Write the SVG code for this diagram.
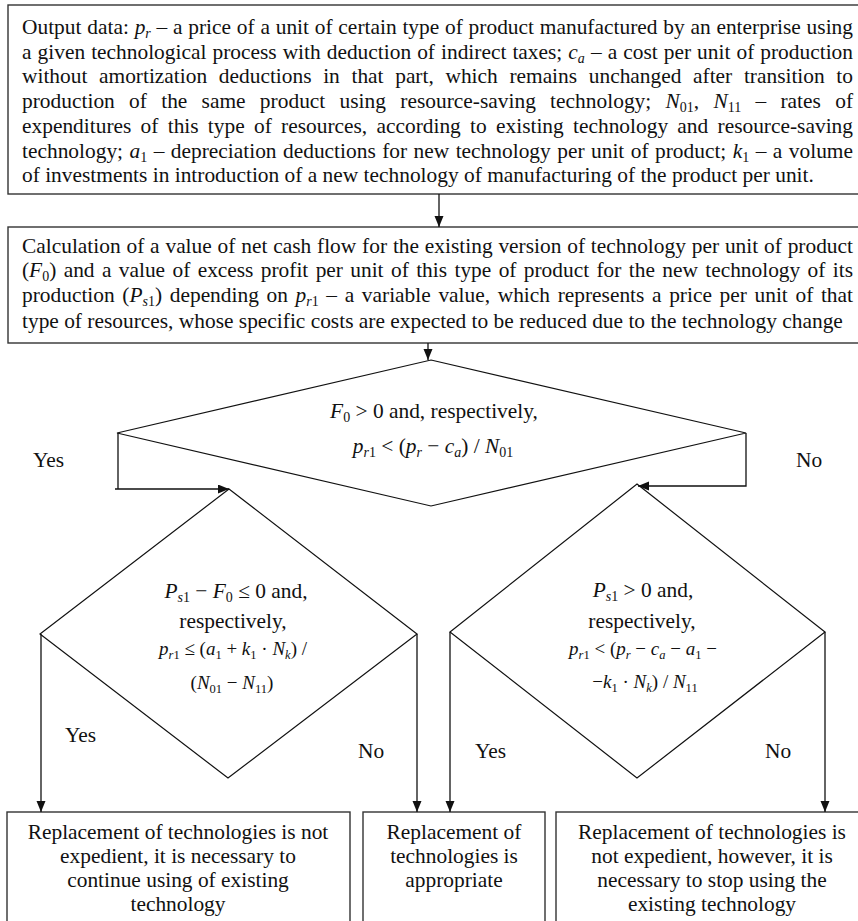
<svg xmlns="http://www.w3.org/2000/svg" width="858" height="921" viewBox="0 0 858 921">
<defs>
<marker id="ah" markerUnits="userSpaceOnUse" markerWidth="12" markerHeight="10" refX="11" refY="4.5" orient="auto">
<path d="M0,0 L11,4.5 L0,9 z" fill="#111"/>
</marker>
<style>
text{font-family:"Liberation Serif","Times New Roman",serif;font-size:21.4px;fill:#111}
.m{text-anchor:middle}
.i{font-style:italic}
.s{font-size:14px;baseline-shift:-4px}
.f{font-size:19px}
.f .s{font-size:12.5px}
.box{fill:#fff;stroke:#333;stroke-width:1.4}
.dia{fill:none;stroke:#111;stroke-width:1.2}
.con{fill:none;stroke:#111;stroke-width:1.3}
.arr{marker-end:url(#ah)}
</style>
</defs>

<g id="input">
<rect class="box" x="8" y="5" width="859" height="189"/>
<text x="22" y="34" textLength="831" lengthAdjust="spacing" word-spacing="0.4">Output data: <tspan class="i">p</tspan><tspan class="s i">r</tspan> – a price of a unit of certain type of product manufactured by an enterprise using</text>
<text x="22" y="58.7" textLength="831" lengthAdjust="spacing" word-spacing="0.7">a given technological process with deduction of indirect taxes; <tspan class="i">c</tspan><tspan class="s i">a</tspan> – a cost per unit of production</text>
<text x="22" y="83.4" textLength="831" lengthAdjust="spacing" word-spacing="6.3">without amortization deductions in that part, which remains unchanged after transition to</text>
<text x="22" y="108.1" textLength="831" lengthAdjust="spacing" word-spacing="8.9">production of the same product using resource-saving technology; <tspan class="i">N</tspan><tspan class="s">01</tspan>, <tspan class="i">N</tspan><tspan class="s">11</tspan> – rates of</text>
<text x="22" y="132.8" textLength="831" lengthAdjust="spacing" word-spacing="3.9">expenditures of this type of resources, according to existing technology and resource-saving</text>
<text x="22" y="157.5" textLength="831" lengthAdjust="spacing" word-spacing="1.1">technology; <tspan class="i">a</tspan><tspan class="s">1</tspan> – depreciation deductions for new technology per unit of product; <tspan class="i">k</tspan><tspan class="s">1</tspan> – a volume</text>
<text x="22" y="182.2">of investments in introduction of a new technology of manufacturing of the product per unit.</text>
</g>

<g id="calc">
<rect class="box" x="8" y="227" width="859" height="116"/>
<text x="22" y="252.5" textLength="831" lengthAdjust="spacing" word-spacing="0.5">Calculation of a value of net cash flow for the existing version of technology per unit of product</text>
<text x="22" y="277.3" textLength="831" lengthAdjust="spacing" word-spacing="2.1">(<tspan class="i">F</tspan><tspan class="s">0</tspan>) and a value of excess profit per unit of this type of product for the new technology of its</text>
<text x="22" y="302" textLength="831" lengthAdjust="spacing" word-spacing="2.3">production (<tspan class="i">P</tspan><tspan class="s"><tspan class="i">s</tspan>1</tspan>) depending on <tspan class="i">p</tspan><tspan class="s"><tspan class="i">r</tspan>1</tspan> – a variable value, which represents a price per unit of that</text>
<text x="22" y="328">type of resources, whose specific costs are expected to be reduced due to the technology change</text>
</g>

<g id="dec1">
<polygon class="dia" points="431,360 746,433 431,506 117,433"/>
<text class="m" x="434" y="418"><tspan class="i">F</tspan><tspan class="s">0</tspan> &gt; 0  and, respectively,</text>
<text class="m" x="433" y="453"><tspan class="i">p</tspan><tspan class="s"><tspan class="i">r</tspan>1</tspan> &lt; (<tspan class="i">p</tspan><tspan class="s i">r</tspan> − <tspan class="i">c</tspan><tspan class="s i">a</tspan>) / <tspan class="i">N</tspan><tspan class="s">01</tspan></text>
</g>

<g id="dec2">
<polygon class="dia" points="229,489 417,634 228,778 40,634"/>
<text class="m" x="236" y="598"><tspan class="i">P</tspan><tspan class="s"><tspan class="i">s</tspan>1</tspan> − <tspan class="i">F</tspan><tspan class="s">0</tspan> ≤ 0  and,</text>
<text class="m" x="233" y="628">respectively,</text>
<text class="m f" x="233" y="655"><tspan class="i">p</tspan><tspan class="s"><tspan class="i">r</tspan>1</tspan> ≤ (<tspan class="i">a</tspan><tspan class="s">1</tspan> + <tspan class="i">k</tspan><tspan class="s">1</tspan> · <tspan class="i">N</tspan><tspan class="s i">k</tspan>) /</text>
<text class="m f" x="232" y="689">(<tspan class="i">N</tspan><tspan class="s">01</tspan> − <tspan class="i">N</tspan><tspan class="s">11</tspan>)</text>
</g>

<g id="dec3">
<polygon class="dia" points="637,484 825,632 637,778 450,632"/>
<text class="m" x="643" y="597"><tspan class="i">P</tspan><tspan class="s"><tspan class="i">s</tspan>1</tspan> &gt; 0  and,</text>
<text class="m" x="642" y="628">respectively,</text>
<text class="m f" x="643" y="655"><tspan class="i">p</tspan><tspan class="s"><tspan class="i">r</tspan>1</tspan> &lt; (<tspan class="i">p</tspan><tspan class="s i">r</tspan> − <tspan class="i">c</tspan><tspan class="s i">a</tspan> − <tspan class="i">a</tspan><tspan class="s">1</tspan> −</text>
<text class="m f" x="645" y="688">−<tspan class="i">k</tspan><tspan class="s">1</tspan> · <tspan class="i">N</tspan><tspan class="s i">k</tspan>) / <tspan class="i">N</tspan><tspan class="s">11</tspan></text>
</g>

<g id="res1">
<rect class="box" x="7" y="812" width="343" height="120"/>
<text class="m" x="178" y="839">Replacement of technologies is not</text>
<text class="m" x="178" y="863">expedient, it is necessary to</text>
<text class="m" x="178" y="887">continue using of existing</text>
<text class="m" x="178" y="911">technology</text>
</g>

<g id="res2">
<rect class="box" x="363" y="812" width="182" height="120"/>
<text class="m" x="454" y="839">Replacement of</text>
<text class="m" x="454" y="863">technologies is</text>
<text class="m" x="454" y="887">appropriate</text>
</g>

<g id="res3">
<rect class="box" x="556" y="812" width="312" height="120"/>
<text class="m" x="712" y="839">Replacement of technologies is</text>
<text class="m" x="712" y="863">not expedient, however, it is</text>
<text class="m" x="712" y="887">necessary to stop using the</text>
<text class="m" x="712" y="911">existing technology</text>
</g>

<g id="connectors">
<line class="con arr" x1="439" y1="194" x2="439" y2="227"/>
<line class="con arr" x1="428" y1="343" x2="428" y2="360"/>
<polyline class="con arr" points="118,433 118,489 115,489 229,489"/>
<polyline class="con arr" points="746,433 746,486 638,486"/>
<line class="con arr" x1="41" y1="634" x2="41" y2="812"/>
<line class="con arr" x1="417" y1="634" x2="417" y2="812"/>
<line class="con arr" x1="450" y1="632" x2="450" y2="812"/>
<line class="con arr" x1="825" y1="632" x2="825" y2="812"/>
<text x="33" y="467">Yes</text>
<text x="796" y="467">No</text>
<text x="65" y="742">Yes</text>
<text x="358" y="758">No</text>
<text x="475" y="758">Yes</text>
<text x="765" y="758">No</text>
</g>
</svg>
